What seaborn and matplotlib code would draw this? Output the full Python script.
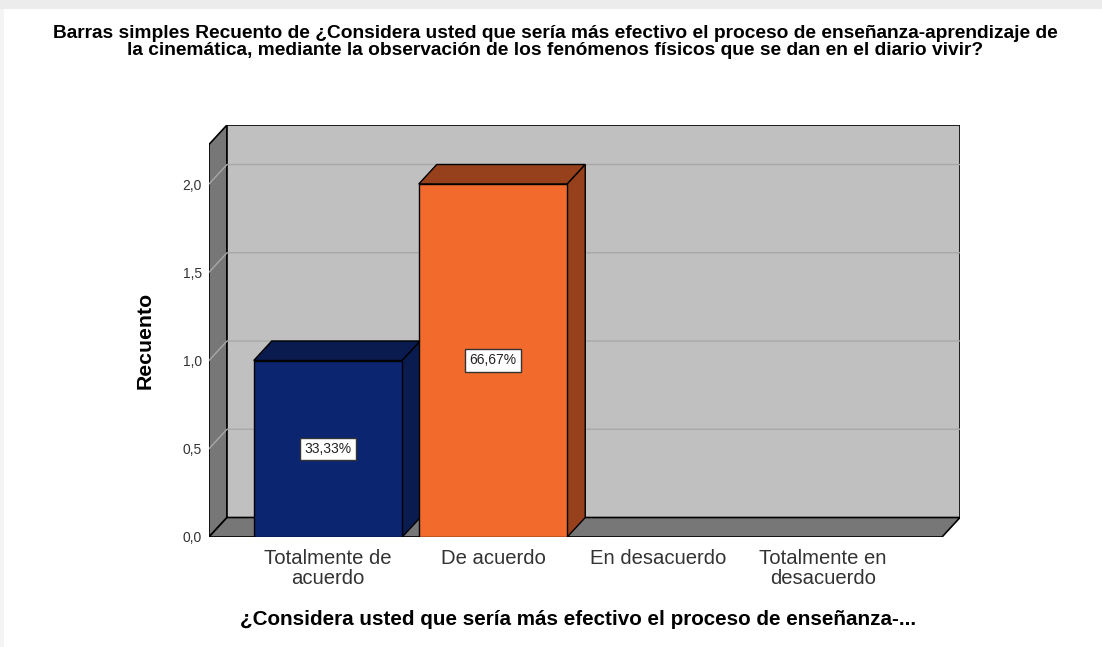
import numpy as np
import matplotlib
matplotlib.use("Agg")
import matplotlib.pyplot as plt
import seaborn as sns

# Datos del gráfico
categorias = ["Totalmente de\nacuerdo", "De acuerdo", "En desacuerdo", "Totalmente en\ndesacuerdo"]
recuento = [1, 2, 0, 0]
porcentajes = [33.33, 66.67, 0.0, 0.0]
ticks_y = [0.0, 0.5, 1.0, 1.5, 2.0]
colores_frente = ["#0b2571", "#f26a2c", "#808080", "#808080"]
colores_lado = ["#0a1b50", "#97401c", "#606060", "#606060"]

titulo = ("Barras simples Recuento de ¿Considera usted que sería más efectivo el proceso de enseñanza-aprendizaje de\n"
          "la cinemática, mediante la observación de los fenómenos físicos que se dan en el diario vivir?")
etiqueta_x = "¿Considera usted que sería más efectivo el proceso de enseñanza-..."
etiqueta_y = "Recuento"

sns.set_style("white")
plt.rcParams['font.family'] = ['Liberation Sans', 'DejaVu Sans']
plt.rcParams['text.color'] = 'black'
plt.rcParams['xtick.color'] = 'black'
plt.rcParams['ytick.color'] = 'black'
plt.rcParams['axes.labelcolor'] = 'black'

W, H = 1102, 647
fig = plt.figure(figsize=(W / 100, H / 100), dpi=100)
fig.patch.set_facecolor("white")

# franja gris superior (marco del visor)
fig.patches.append(plt.Rectangle((0, 1 - 9 / H), 1, 9 / H, transform=fig.transFigure,
                                 facecolor="#ececec", edgecolor="none", zorder=0))
fig.patches.append(plt.Rectangle((0, 0), 4 / W, 1 - 9 / H, transform=fig.transFigure,
                                 facecolor="#f4f4f4", edgecolor="none", zorder=0))

ax = fig.add_axes([209 / W, (H - 537) / H, (960 - 209) / W, (537 - 125) / H])

# profundidad 3D en unidades de datos
esc_x = 165.0
esc_y = 176.5
dx = 18 / esc_x
dy = 19.5 / esc_y
x0 = (209 - 328) / esc_x
x1 = (942 - 328) / esc_x
ymax = 2.224

sns.barplot(x=categorias, y=recuento, hue=categorias, palette=colores_frente,
            width=0.9, edgecolor="black", linewidth=1.0, legend=False,
            saturation=1, ax=ax, zorder=5)
barras = list(ax.patches)

ax.set_xlim(x0, x0 + (960 - 209) / esc_x)
ax.set_ylim(0, (537 - 125) / esc_y)

gris_pared = "#777777"
# pared izquierda
ax.fill([x0, x0 + dx, x0 + dx, x0], [0, dy, ymax + dy, ymax],
        facecolor=gris_pared, edgecolor="black", linewidth=1.2, zorder=1)
# pared del fondo
ax.fill([x0 + dx, x1 + dx, x1 + dx, x0 + dx], [dy, dy, ymax + dy, ymax + dy],
        facecolor="#c0c0c0", edgecolor="black", linewidth=1.2, zorder=1)
# suelo
ax.fill([x0, x1, x1 + dx, x0 + dx], [0, 0, dy, dy],
        facecolor=gris_pared, edgecolor="black", linewidth=1.2, zorder=2)

# líneas de cuadrícula
for v in ticks_y[1:]:
    ax.plot([x0, x0 + dx, x1 + dx], [v, v + dy, v + dy], color="#a8a8a8",
            linewidth=1.0, zorder=1.5)

# caras superiores y laterales de las barras
for barra, alto, lado, pct in zip(barras, recuento, colores_lado, porcentajes):
    if alto <= 0:
        barra.set_visible(False)
        continue
    bx = barra.get_x()
    bw = barra.get_width()
    ax.fill([bx, bx + bw, bx + bw + dx, bx + dx], [alto, alto, alto + dy, alto + dy],
            facecolor=lado, edgecolor="black", linewidth=1.0, zorder=4)
    ax.fill([bx + bw, bx + bw + dx, bx + bw + dx, bx + bw], [0, dy, alto + dy, alto],
            facecolor=lado, edgecolor="black", linewidth=1.0, zorder=4)
    ax.text(bx + bw / 2, alto / 2, f"{pct:.2f}%".replace(".", ","), ha="center", va="center",
            fontsize=10, color="#222222", zorder=6,
            bbox=dict(boxstyle="square,pad=0.3", facecolor="white", edgecolor="#333333", linewidth=1.0))

for s in ax.spines.values():
    s.set_visible(False)

ax.set_yticks(ticks_y)
ax.set_yticklabels([f"{v:.1f}".replace(".", ",") for v in ticks_y], fontsize=10, color="#333333")
ax.tick_params(axis="y", length=0, pad=5)
ax.tick_params(axis="x", length=0, pad=9, labelsize=14.6, labelcolor="#333333")
for t in ax.get_xticklabels():
    t.set_linespacing(1.05)

ax.set_ylabel(etiqueta_y, fontsize=15.3, fontweight="bold")
ax.yaxis.set_label_coords((155 - 209) / 751, (537 - 340) / 412)
ax.set_xlabel(etiqueta_x, fontsize=14.9, fontweight="bold")
ax.xaxis.set_label_coords((578 - 209) / 751, (537 - 610) / 412)

fig.text(555 / W, 1 - 25 / H, titulo, ha="center", va="top", fontsize=13.8,
         fontweight="bold", linespacing=1.02)

fig.savefig("out.png", dpi=100)
